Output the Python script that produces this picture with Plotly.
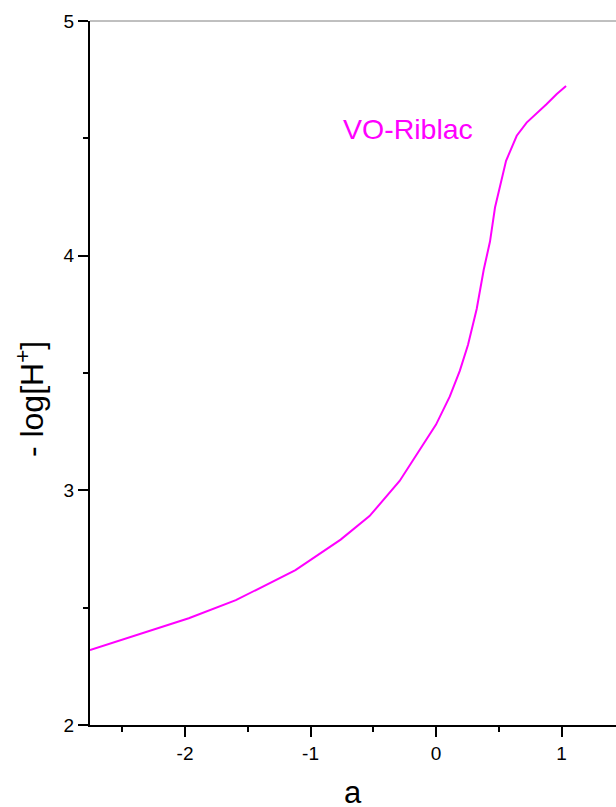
import plotly.graph_objects as go

# Titration curve: -log[H+] against a
a_values = [-2.757, -2.38, -1.97, -1.595, -1.12, -0.76, -0.53, -0.29, -0.13, 0.0,
            0.11, 0.19, 0.255, 0.324, 0.38, 0.43, 0.47, 0.558, 0.643, 0.722,
            0.88, 0.96, 1.036]
neg_log_h = [2.319, 2.383, 2.455, 2.532, 2.66, 2.79, 2.89, 3.04, 3.17, 3.28,
             3.40, 3.51, 3.62, 3.773, 3.94, 4.06, 4.205, 4.404, 4.511, 4.567,
             4.645, 4.688, 4.723]

x_ticks = [-2, -1, 0, 1]
y_ticks = [2, 3, 4, 5]
series_name = "VO-Riblac"
line_color = "#FF00FF"
font_family = "Liberation Sans, Arial, sans-serif"

fig = go.Figure()
fig.add_trace(go.Scatter(
    x=a_values, y=neg_log_h, mode="lines", name=series_name,
    line=dict(color=line_color, width=2), showlegend=False,
))

fig.update_layout(
    width=616, height=807,
    margin=dict(l=90, r=0, t=21, b=82),
    paper_bgcolor="white", plot_bgcolor="white",
    font=dict(family=font_family, color="black"),
)

fig.update_xaxes(
    range=[-2.757, 1.434], tickvals=x_ticks, ticktext=[str(v) for v in x_ticks],
    ticks="outside", ticklen=10, tickwidth=2, tickcolor="black",
    showline=True, linecolor="black", linewidth=2, showgrid=False, zeroline=False,
    tickfont=dict(size=19),
    minor=dict(dtick=0.5, tick0=0, ticks="outside", ticklen=5, tickwidth=2,
               tickcolor="black", showgrid=False),
)
fig.update_yaxes(
    range=[2, 5], tickvals=y_ticks, ticktext=[str(v) for v in y_ticks],
    ticks="outside", ticklen=10, tickwidth=2, tickcolor="black",
    showline=True, linecolor="black", linewidth=2, showgrid=False, zeroline=False,
    tickfont=dict(size=19),
    minor=dict(dtick=0.5, tick0=0, ticks="outside", ticklen=5, tickwidth=2,
               tickcolor="black", showgrid=False),
)

# Top frame line
fig.add_shape(type="line", xref="paper", yref="paper", x0=0, x1=1, y0=1, y1=1,
              line=dict(color="#808080", width=1))

# Axis titles
fig.add_annotation(text="a", xref="paper", yref="paper", x=0.5, y=-0.096,
                   xanchor="center", yanchor="middle", showarrow=False,
                   font=dict(size=31))
fig.add_annotation(text="- log[H<sup>+</sup>]", xref="paper", yref="paper",
                   x=-0.114, y=0.463, xanchor="center", yanchor="middle",
                   textangle=-90, showarrow=False, font=dict(size=32))

# Series label
fig.add_annotation(text=series_name, xref="x", yref="y", x=-0.22, y=4.54,
                   xanchor="center", yanchor="middle", showarrow=False,
                   font=dict(size=28.5, color=line_color))

fig.write_html("out.html")
